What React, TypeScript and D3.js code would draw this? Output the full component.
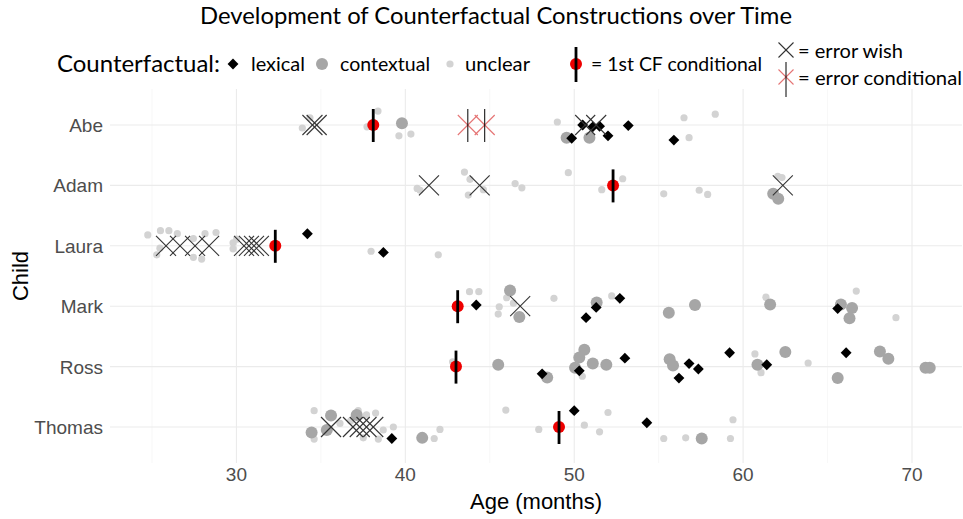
import React from 'react';
import * as d3 from 'd3';

// children, top to bottom
const children = ['Abe', 'Adam', 'Laura', 'Mark', 'Ross', 'Thomas'];
const xTicks = [30, 40, 50, 60, 70];
const xMinor = [25, 35, 45, 55, 65];

// [child, age in months, vertical jitter in row units]
const unclear: [string, number, number][] = [
  ['Abe', 33.9, 0.05], ['Abe', 34.35, -0.12], ['Abe', 38.38, -0.23], ['Abe', 37.73, 0.03],
  ['Abe', 39.62, 0.18], ['Abe', 40.33, 0.15], ['Abe', 49.0, -0.05], ['Abe', 56.5, -0.12],
  ['Abe', 56.8, 0.21], ['Abe', 58.35, -0.18],
  ['Adam', 40.7, 0.05], ['Adam', 40.87, 0.08], ['Adam', 43.5, -0.22], ['Adam', 43.83, -0.1],
  ['Adam', 43.73, 0.16], ['Adam', 44.62, 0.07], ['Adam', 46.5, -0.03], ['Adam', 46.9, 0.04],
  ['Adam', 49.65, -0.21], ['Adam', 51.63, 0.07], ['Adam', 52.87, -0.11], ['Adam', 55.3, 0.14],
  ['Adam', 57.4, 0.08], ['Adam', 57.9, 0.15], ['Adam', 62.05, -0.15], ['Adam', 62.3, -0.13],
  ['Adam', 61.8, 0.15],
  ['Laura', 24.75, -0.18], ['Laura', 25.5, -0.25], ['Laura', 26.0, -0.25], ['Laura', 26.5, -0.2],
  ['Laura', 25.28, 0.15], ['Laura', 25.47, 0.04], ['Laura', 27.45, 0.19], ['Laura', 27.94, 0.22],
  ['Laura', 28.14, -0.2], ['Laura', 28.79, -0.22], ['Laura', 27.45, -0.12], ['Laura', 29.8, -0.05],
  ['Laura', 29.8, 0.05], ['Laura', 30.01, -0.11], ['Laura', 37.97, 0.09], ['Laura', 41.95, 0.15],
  ['Mark', 43.8, -0.24], ['Mark', 44.35, -0.24], ['Mark', 45.56, 0.01], ['Mark', 45.5, 0.13],
  ['Mark', 46.0, -0.14], ['Mark', 46.4, -0.05], ['Mark', 48.8, -0.13], ['Mark', 52.22, -0.17],
  ['Mark', 61.35, -0.15], ['Mark', 66.7, -0.25], ['Mark', 69.05, 0.19],
  ['Ross', 42.8, -0.08], ['Ross', 50.48, 0.16], ['Ross', 60.7, -0.21], ['Ross', 61.06, 0.1],
  ['Ross', 63.85, -0.06],
  ['Thomas', 34.6, -0.27], ['Thomas', 34.6, 0.2], ['Thomas', 36.13, -0.06], ['Thomas', 36.76, -0.1],
  ['Thomas', 37.21, -0.27], ['Thomas', 37.7, -0.2], ['Thomas', 38.24, -0.23], ['Thomas', 37.51, 0.18],
  ['Thomas', 38.4, 0.2], ['Thomas', 38.69, 0.05], ['Thomas', 39.29, 0.0], ['Thomas', 41.71, 0.19],
  ['Thomas', 42.05, 0.04], ['Thomas', 45.95, -0.28], ['Thomas', 47.9, 0.04], ['Thomas', 50.6, -0.03],
  ['Thomas', 51.5, 0.08], ['Thomas', 52.0, -0.24], ['Thomas', 55.3, 0.19], ['Thomas', 56.6, 0.18],
  ['Thomas', 59.25, 0.19], ['Thomas', 59.4, -0.12],
];

const contextual: [string, number, number][] = [
  ['Abe', 39.8, -0.03], ['Abe', 49.55, 0.21], ['Abe', 50.9, 0.21],
  ['Adam', 61.78, 0.14], ['Adam', 62.08, 0.22],
  ['Mark', 46.2, -0.26], ['Mark', 46.75, 0.18], ['Mark', 51.33, -0.06], ['Mark', 55.6, 0.11],
  ['Mark', 57.15, -0.02], ['Mark', 61.6, -0.03], ['Mark', 65.79, -0.03], ['Mark', 66.45, 0.03],
  ['Mark', 66.3, 0.2],
  ['Ross', 45.5, -0.03], ['Ross', 48.4, 0.18], ['Ross', 50.6, -0.28], ['Ross', 50.3, -0.15],
  ['Ross', 50.05, 0.02], ['Ross', 51.1, -0.05], ['Ross', 51.9, -0.03], ['Ross', 55.65, -0.12],
  ['Ross', 55.85, -0.02], ['Ross', 60.85, -0.03], ['Ross', 62.5, -0.24], ['Ross', 65.6, 0.19],
  ['Ross', 68.1, -0.25], ['Ross', 68.6, -0.13], ['Ross', 70.8, 0.02], ['Ross', 71.05, 0.02],
  ['Thomas', 34.45, 0.09], ['Thomas', 35.6, -0.19], ['Thomas', 35.35, 0.05], ['Thomas', 37.12, -0.2],
  ['Thomas', 41.0, 0.18], ['Thomas', 57.55, 0.19],
];

const lexical: [string, number, number][] = [
  ['Abe', 49.85, 0.22], ['Abe', 50.5, 0.0], ['Abe', 51.1, 0.03], ['Abe', 51.5, 0.02],
  ['Abe', 52.0, 0.18], ['Abe', 53.2, 0.01], ['Abe', 55.9, 0.25],
  ['Laura', 34.2, -0.2], ['Laura', 38.7, 0.11],
  ['Mark', 44.2, -0.02], ['Mark', 50.7, 0.19], ['Mark', 51.3, 0.02], ['Mark', 52.7, -0.13],
  ['Mark', 65.6, 0.04],
  ['Ross', 48.1, 0.12], ['Ross', 50.3, 0.07], ['Ross', 53.0, -0.14], ['Ross', 56.8, -0.05],
  ['Ross', 57.35, 0.04], ['Ross', 56.2, 0.19], ['Ross', 59.2, -0.23], ['Ross', 61.4, -0.03],
  ['Ross', 66.1, -0.23],
  ['Thomas', 39.2, 0.19], ['Thomas', 50.0, -0.27], ['Thomas', 54.3, -0.07],
];

// [child, age] of errors in wishes
const errorWish: [string, number][] = [
  ['Abe', 34.5], ['Abe', 34.75], ['Abe', 50.65], ['Abe', 51.3],
  ['Adam', 41.4], ['Adam', 44.4], ['Adam', 62.35],
  ['Laura', 25.83], ['Laura', 26.66], ['Laura', 27.55], ['Laura', 28.38],
  ['Laura', 30.45], ['Laura', 30.74], ['Laura', 31.04], ['Laura', 31.33],
  ['Mark', 46.8],
  ['Thomas', 35.6], ['Thomas', 36.9], ['Thomas', 37.3], ['Thomas', 37.7], ['Thomas', 38.1],
];

const errorConditional: [string, number][] = [['Abe', 43.7], ['Abe', 44.7]];

// first counterfactual conditional per child
const firstCF: [string, number][] = [
  ['Abe', 38.1], ['Adam', 52.3], ['Laura', 32.3], ['Mark', 43.1], ['Ross', 43.0], ['Thomas', 49.1],
];

const W = 963;
const H = 519;
const LEG = 'Lato, "Noto Sans", sans-serif';
const AX = '"Liberation Sans", Arial, sans-serif';

const x = d3.scaleLinear().domain([25, 70]).range([152, 912]);
const y = d3.scalePoint<string>().domain(children).range([125, 427]);
const step = y.step();
const panel = { left: 110, right: 962, top: 89, bottom: 463 };

const diamond = d3.symbol().type(d3.symbolDiamond2).size(75)();

const Cross = ({ cx, cy, r, color }: { cx: number; cy: number; r: number; color: string }) => (
  <g stroke={color} strokeWidth={1.1}>
    <line x1={cx - r} y1={cy - r} x2={cx + r} y2={cy + r} />
    <line x1={cx - r} y1={cy + r} x2={cx + r} y2={cy - r} />
  </g>
);

// legend label, squeezed to the width it has in the original
const Label = ({ x0, y0, w, size, children: t }: { x0: number; y0: number; w: number; size: number; children: string }) => (
  <text x={x0} y={y0} fontFamily={LEG} fontSize={size} textLength={w} lengthAdjust="spacingAndGlyphs" fill="#000">{t}</text>
);

export default function App() {
  const py = (c: string, j = 0) => (y(c) as number) + j * step;
  return (
    <svg width={W} height={H} style={{ position: 'absolute', left: 0, top: 0, background: '#fff' }}>
      {/* grid */}
      {xMinor.map(t => (
        <line key={'m' + t} x1={x(t)} x2={x(t)} y1={panel.top} y2={panel.bottom} stroke="#f2f2f2" strokeWidth={0.6} />
      ))}
      {xTicks.map(t => (
        <line key={'g' + t} x1={x(t)} x2={x(t)} y1={panel.top} y2={panel.bottom} stroke="#ebebeb" strokeWidth={1.1} />
      ))}
      {children.map(c => (
        <line key={'h' + c} x1={panel.left} x2={panel.right} y1={py(c)} y2={py(c)} stroke="#ebebeb" strokeWidth={1.1} />
      ))}

      {/* points */}
      {unclear.map((d, i) => (
        <circle key={'u' + i} cx={x(d[1])} cy={py(d[0], d[2])} r={3.6} fill="#d3d3d3" />
      ))}
      {contextual.map((d, i) => (
        <circle key={'c' + i} cx={x(d[1])} cy={py(d[0], d[2])} r={6} fill="#a6a6a6" />
      ))}
      {lexical.map((d, i) => (
        <path key={'l' + i} d={diamond as string} transform={`translate(${x(d[1])},${py(d[0], d[2])})`} fill="#000" />
      ))}

      {/* errors */}
      {errorWish.map((d, i) => (
        <Cross key={'w' + i} cx={x(d[1])} cy={py(d[0])} r={10} color="#333" />
      ))}
      {errorConditional.map((d, i) => (
        <g key={'e' + i}>
          <Cross cx={x(d[1])} cy={py(d[0])} r={10} color="#e57373" />
          <line x1={x(d[1])} x2={x(d[1])} y1={py(d[0]) - 16} y2={py(d[0]) + 17} stroke="#000" strokeWidth={1} />
        </g>
      ))}

      {/* first CF conditional */}
      {firstCF.map((d, i) => (
        <g key={'f' + i}>
          <circle cx={x(d[1])} cy={py(d[0])} r={6} fill="#ee0000" />
          <line x1={x(d[1])} x2={x(d[1])} y1={py(d[0]) - 16} y2={py(d[0]) + 17} stroke="#000" strokeWidth={2.8} />
        </g>
      ))}

      {/* axes */}
      {xTicks.map(t => (
        <text key={'t' + t} x={x(t)} y={481} textAnchor="middle" fontFamily={AX} fontSize={19} fill="#4d4d4d">{t}</text>
      ))}
      {children.map(c => (
        <text key={'y' + c} x={103} y={py(c) + 7} textAnchor="end" fontFamily={AX} fontSize={19} fill="#4d4d4d">{c}</text>
      ))}
      <text x={(panel.left + panel.right) / 2} y={509} textAnchor="middle" fontFamily={AX} fontSize={22} fill="#000">Age (months)</text>
      <text transform={`translate(28,${(panel.top + panel.bottom) / 2}) rotate(-90)`} textAnchor="middle" fontFamily={AX} fontSize={22} fill="#000">Child</text>

      {/* title */}
      <Label x0={200} y0={24} w={592} size={23}>Development of Counterfactual Constructions over Time</Label>

      {/* legend */}
      <Label x0={57} y0={72} w={163} size={23}>Counterfactual:</Label>
      <path d={diamond as string} transform="translate(233,64)" fill="#000" />
      <Label x0={251} y0={71} w={54} size={20}>lexical</Label>
      <circle cx={322} cy={64} r={6} fill="#a6a6a6" />
      <Label x0={340} y0={71} w={90} size={20}>contextual</Label>
      <circle cx={450} cy={64} r={3.6} fill="#d3d3d3" />
      <Label x0={465} y0={71} w={65} size={20}>unclear</Label>
      <circle cx={576} cy={64} r={6} fill="#ee0000" />
      <line x1={576} x2={576} y1={47} y2={82} stroke="#000" strokeWidth={2.8} />
      <Label x0={591} y0={71} w={171} size={20}>= 1st CF conditional</Label>
      <Cross cx={786} cy={50} r={7.5} color="#333" />
      <Label x0={798} y0={58} w={105} size={20}>= error wish</Label>
      <Cross cx={786} cy={77} r={7.5} color="#e57373" />
      <line x1={786} x2={786} y1={62} y2={97} stroke="#000" strokeWidth={1} />
      <Label x0={798} y0={85} w={164} size={20}>= error conditional</Label>
    </svg>
  );
}
